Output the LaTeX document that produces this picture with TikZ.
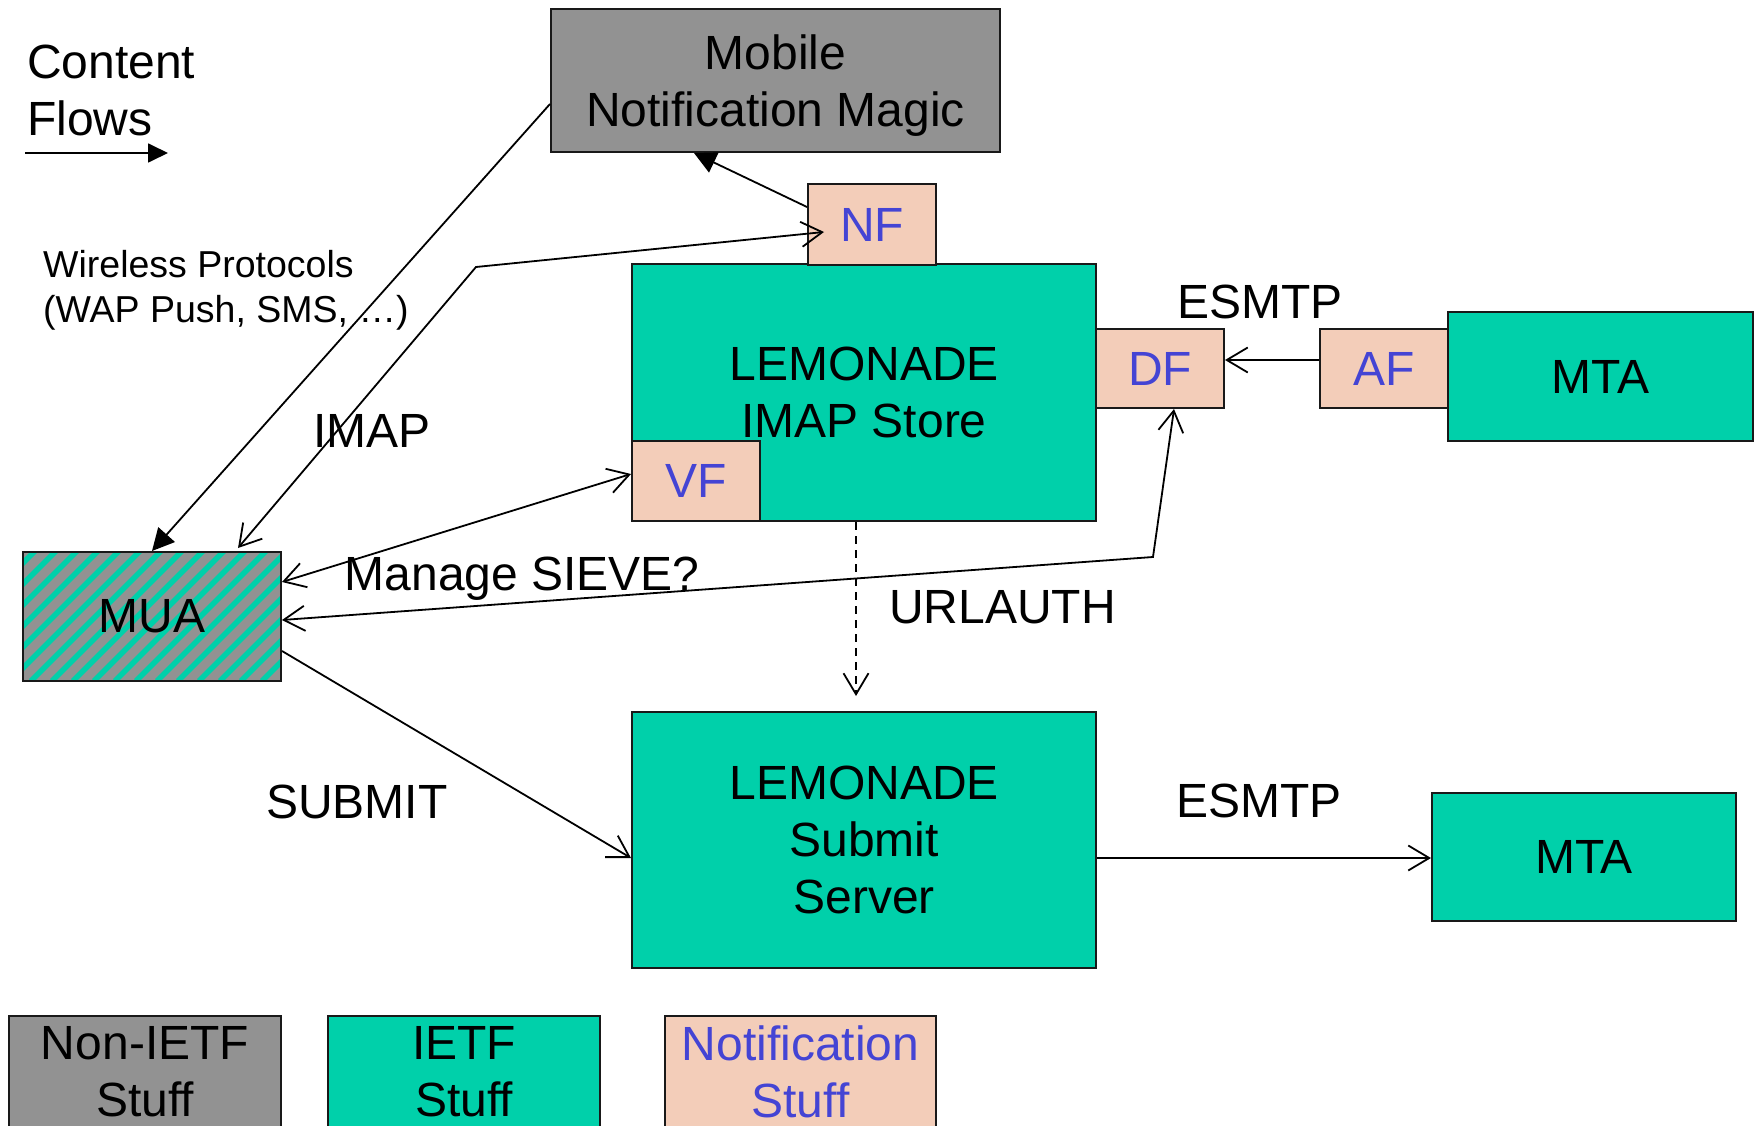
\documentclass[tikz,border=0pt]{standalone}
\usepackage{fontspec}
\setmainfont{Liberation Sans}
\usetikzlibrary{arrows.meta,calc}
\definecolor{gry}{RGB}{146,146,146}
\definecolor{ietfc}{RGB}{0,208,170}
\definecolor{peach}{RGB}{243,205,185}
\definecolor{bluet}{RGB}{68,68,212}
\begin{document}
\begin{tikzpicture}[x=1pt,y=-1pt,
  >={Straight Barb[length=21pt,width=25pt]},
  box/.style={draw=black!90, line width=2pt, inner sep=0pt, align=center, font=\fontsize{48}{57}\selectfont},
  nonietf/.style={box, fill=gry},
  ietf/.style={box, fill=ietfc},
  notif/.style={box, fill=peach, text=bluet},
  lbl/.style={inner sep=0pt, font=\fontsize{48}{57}\selectfont},
  smalllbl/.style={inner sep=0pt, font=\fontsize{37.5}{45}\selectfont},
  conn/.style={line width=1.8pt, black},
  filledtip/.style={-{Triangle[length=22pt,width=22pt]}},
  stripes/.style={path picture={
      \foreach \i in {-160,-139,...,300}
        \draw[ietfc, line width=5.5pt] ([xshift=\i pt]path picture bounding box.south west) -- ++(220pt,220pt);
  }}
]
\useasboundingbox (0,0) rectangle (1754,1126);
\clip (0,0) rectangle (1754,1126);

% boxes
\node[nonietf, minimum width=449pt, minimum height=143pt, text depth=0pt] (mobile) at (775.5,80.5) {Mobile\\Notification Magic};
\node[ietf, minimum width=464pt, minimum height=257pt] (store) at (864,392.5) {LEMONADE\\IMAP Store};
\node[notif, minimum width=128pt, minimum height=81pt] (nf) at (872,224.5) {NF};
\node[notif, minimum width=128pt, minimum height=80pt] (vf) at (696,481) {VF};
\node[notif, minimum width=128pt, minimum height=79pt] (df) at (1160,368.5) {DF};
\node[ietf, minimum width=305pt, minimum height=129pt] (mta1) at (1600.5,376.5) {MTA};
\node[notif, minimum width=128pt, minimum height=79pt] (af) at (1384,368.5) {AF};
\node[box, fill=gry, stripes, minimum width=258pt, minimum height=129pt] (mua) at (152,616.5) {MUA};
\node[ietf, minimum width=464pt, minimum height=256pt] (submit) at (864,840) {LEMONADE\\Submit\\Server};
\node[ietf, minimum width=304pt, minimum height=128pt] (mta2) at (1584,857) {MTA};

% legend
\node[nonietf, minimum width=272pt, minimum height=111pt, text depth=0pt] (leg1) at (145,1071.5) {Non-IETF\\Stuff};
\node[ietf, minimum width=272pt, minimum height=111pt, text depth=0pt] (leg2) at (464,1071.5) {IETF\\Stuff};
\node[notif, minimum width=271pt, minimum height=111pt, text depth=0pt] (leg3) at (800.5,1071.5) {Notification\\Stuff};

% labels
\node[lbl, anchor=north west, align=left] (content) at (27,45) {Content\\Flows};
\node[smalllbl, anchor=north west, align=left] (wireless) at (43,250) {Wireless Protocols\\(WAP Push, SMS, …)};
\node[lbl, anchor=base west] (imap) at (313,447) {IMAP};
\node[lbl, anchor=base west] (sieve) at (344.5,590) {Manage SIEVE?};
\node[lbl, anchor=base west] (urlauth) at (889,623) {URLAUTH};
\node[lbl, anchor=base west] (esmtp1) at (1177,318) {ESMTP};
\node[lbl, anchor=base west] (esmtp2) at (1176,817) {ESMTP};
\node[lbl, anchor=base west] (submitlbl) at (266,818) {SUBMIT};

% content flow arrow
\coordinate (cf1) at (25,153);
\coordinate (cf2) at (168,153);
\draw[conn, -{Triangle[length=20pt,width=19pt]}] (cf1) -- (cf2);

% connectors
\coordinate (k1) at (476,267);
\coordinate (k2) at (1153,557);
\draw[conn, filledtip] ([yshift=-96pt]mobile.north west) -- ([xshift=130pt]mua.north west);
\draw[conn, <->] ([xshift=216pt,yshift=3pt]mua.north west) -- (k1) -- ([xshift=17pt,yshift=-7.5pt]nf.west);
\draw[conn, filledtip] ([yshift=-24pt]nf.north west) -- ([xshift=144pt]mobile.south west);
\draw[conn, <->] ([yshift=34.5pt]mua.east) -- ([yshift=7pt]vf.west);
\draw[conn, <->] ([yshift=-3.5pt]mua.east) -- (k2) -- ([xshift=14pt]df.south);
\draw[conn, ->, dash pattern=on 8pt off 6pt] ([xshift=-8pt]store.south) -- ([xshift=-8pt,yshift=15pt]submit.north);
\draw[conn, ->] ([yshift=-34.5pt]mua.east) -- ([yshift=-18pt]submit.west);
\draw[conn, ->] ([yshift=-18pt]submit.east) -- ([yshift=-18pt]submit.east -| mta2.west);
\draw[conn, ->] ([yshift=8.5pt]af.west) -- ([yshift=8.5pt]df.east);
\end{tikzpicture}
\end{document}
